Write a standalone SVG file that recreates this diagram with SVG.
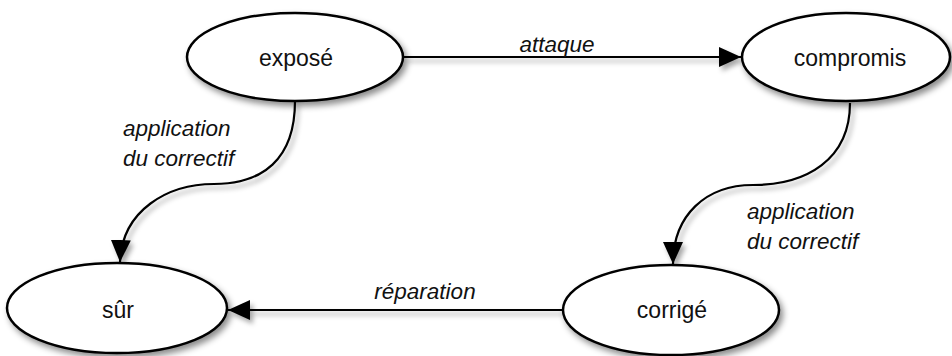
<svg xmlns="http://www.w3.org/2000/svg" width="952" height="356" viewBox="0 0 952 356">
<defs>
<filter id="sh" x="-20%" y="-20%" width="140%" height="150%">
<feDropShadow dx="3" dy="4" stdDeviation="3" flood-color="#000" flood-opacity="0.45"/>
</filter>
<filter id="esh" filterUnits="userSpaceOnUse" x="0" y="0" width="952" height="356">
<feDropShadow dx="3" dy="4" stdDeviation="2.5" flood-color="#000" flood-opacity="0.35"/>
</filter>
<marker id="ah" markerWidth="22" markerHeight="20" refX="22" refY="10" orient="auto" markerUnits="userSpaceOnUse">
<path d="M0,0 L22,10 L0,20 Z" fill="#000"/>
</marker>
<style>
.node ellipse{fill:#fff;stroke:#000;stroke-width:2.5;filter:url(#sh)}
.lbl{font-family:"Liberation Sans",Arial,sans-serif;font-size:23px;fill:#111;text-anchor:middle}
.elbl{font-family:"Liberation Sans",Arial,sans-serif;font-size:22.5px;font-style:italic;fill:#111}
.edge{fill:none;stroke:#000;stroke-width:2.2;marker-end:url(#ah);filter:url(#esh)}
</style>
</defs>
<rect width="952" height="356" fill="#fff"/>
<g id="connectors">
<path class="edge" d="M404,57 L741,57"/>
<path class="edge" d="M562,310 L228,310"/>
<path class="edge" d="M295,101 C295,160 262,184 214,184 C168,184 122,210 120,262"/>
<path class="edge" d="M850,103 C850,160 806,185 753,185 C706,185 673,215 673,264"/>
<text class="elbl" x="557" y="52" text-anchor="middle">attaque</text>
<text class="elbl" x="425" y="299" text-anchor="middle">réparation</text>
<text class="elbl" x="123" y="136">application</text>
<text class="elbl" x="123" y="166">du correctif</text>
<text class="elbl" x="747" y="219">application</text>
<text class="elbl" x="747" y="249">du correctif</text>
</g>
<g id="expose" class="node"><ellipse cx="295" cy="57" rx="108" ry="44"/><text class="lbl" x="296" y="66">exposé</text></g>
<g id="compromis" class="node"><ellipse cx="846" cy="57" rx="104" ry="44"/><text class="lbl" x="850" y="66">compromis</text></g>
<g id="sur" class="node"><ellipse cx="117" cy="308" rx="110" ry="45"/><text class="lbl" x="118" y="318">sûr</text></g>
<g id="corrige" class="node"><ellipse cx="671" cy="310" rx="108" ry="45"/><text class="lbl" x="672" y="318">corrigé</text></g>
</svg>
